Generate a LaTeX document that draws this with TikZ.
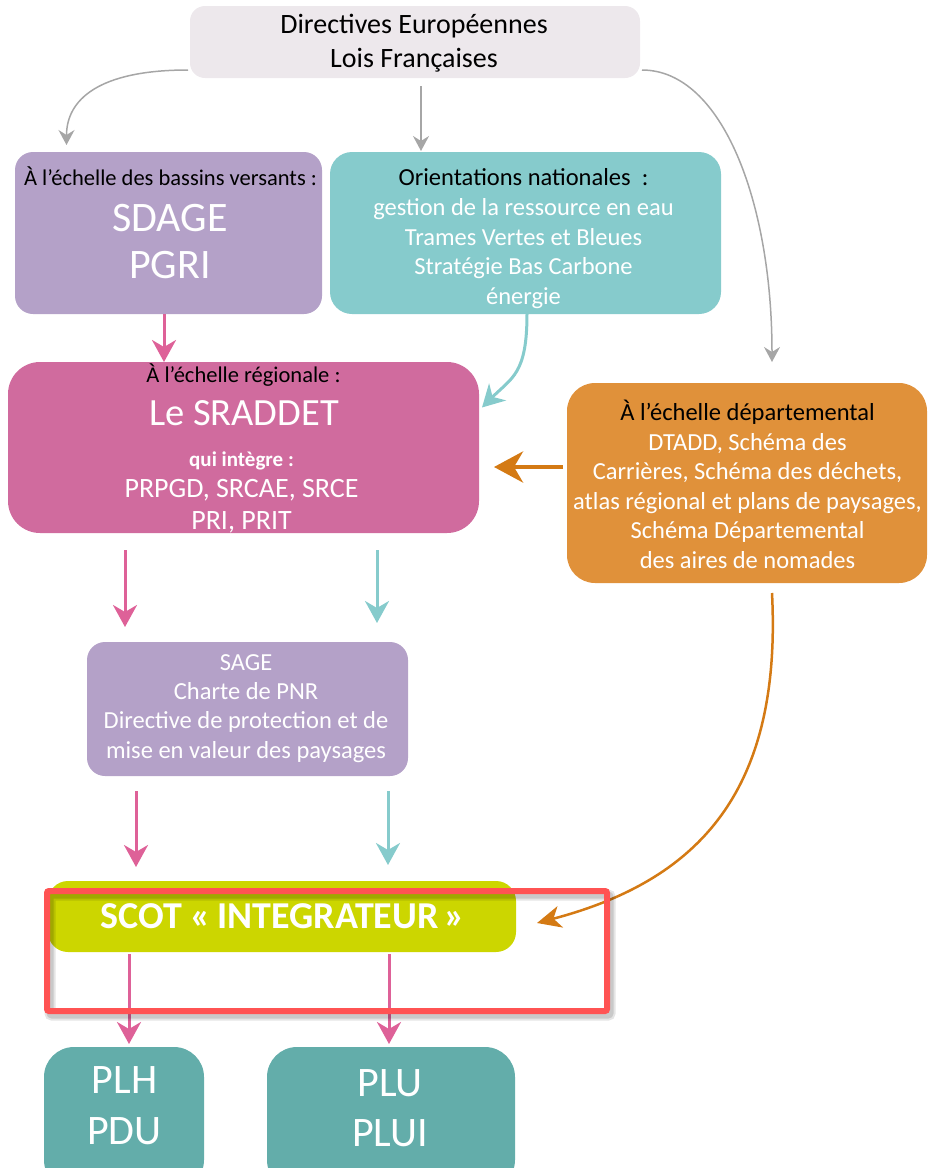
\documentclass[tikz,border=0pt]{standalone}
\usepackage{fontspec}
\setmainfont{Carlito}
\usetikzlibrary{arrows.meta}

\definecolor{topgray}{HTML}{EDE8EC}
\definecolor{lavender}{HTML}{B4A1C8}
\definecolor{lightteal}{HTML}{86CBCC}
\definecolor{rosebox}{HTML}{D06B9E}
\definecolor{orangebox}{HTML}{E0913A}
\definecolor{limebox}{HTML}{CCD600}
\definecolor{darkteal}{HTML}{63ADAA}
\definecolor{redframe}{HTML}{FF5353}
\definecolor{arrowgray}{HTML}{A6A6A6}
\definecolor{arrowpink}{HTML}{DE6198}
\definecolor{arroworange}{HTML}{D47A14}

\tikzset{
  box/.style={inner sep=0pt, outer sep=0pt},
  headtxt/.style={anchor=base, inner sep=0pt, text=black, align=center},
  bodytxt/.style={anchor=base, inner sep=0pt, text=white, align=center},
  grayarrow/.style={draw=arrowgray, line width=1.5pt, -{Stealth[length=15pt,width=16pt,inset=5pt]}},
  pinkarrow/.style={draw=arrowpink, line width=3pt, -{Stealth[length=22pt,width=24pt,inset=7pt]}},
  tealarrow/.style={draw=lightteal, line width=3pt, -{Stealth[length=22pt,width=24pt,inset=7pt]}},
  orangearrow/.style={draw=arroworange, line width=2.5pt, -{Stealth[length=24pt,width=22pt,inset=7pt]}},
  orangethick/.style={draw=arroworange, line width=4.5pt, -{Stealth[length=29pt,width=31pt,inset=9pt]}}
}

\begin{document}
\begin{tikzpicture}[x=1pt, y=-1pt]
\useasboundingbox (0,0) rectangle (928,1168);

\node[box, fill=topgray, rounded corners=15pt, minimum width=450pt, minimum height=72pt] (dir) at (415,42) {};
\node[box, fill=lavender, rounded corners=18pt, minimum width=307pt, minimum height=162pt] (sdage) at (168.5,233) {};
\node[box, fill=lightteal, rounded corners=22pt, minimum width=391pt, minimum height=162pt] (orient) at (525.5,233) {};
\node[box, fill=rosebox, rounded corners=32pt, minimum width=471pt, minimum height=171pt] (sraddet) at (243.5,447.5) {};
\node[box, fill=orangebox, rounded corners=28pt, minimum width=360pt, minimum height=200pt] (dept) at (747,483) {};
\node[box, fill=lavender, rounded corners=18pt, minimum width=321pt, minimum height=134pt] (sage) at (247.5,709) {};
\node[box, fill=limebox, rounded corners=20pt, minimum width=468pt, minimum height=71pt] (scot) at (282,916.5) {};
\node[box, fill=darkteal, rounded corners=30pt, minimum width=160pt, minimum height=143pt] (plh) at (124,1118.5) {};
\node[box, fill=darkteal, rounded corners=30pt, minimum width=248pt, minimum height=143pt] (plu) at (391,1118.5) {};

\node[headtxt, font=\fontsize{28}{34}\selectfont] (dirT) at (414,67) {Directives Européennes\\Lois Françaises};
\node[headtxt, font=\fontsize{22.5}{27}\selectfont] (sdageH) at (170.5,185) {À l’échelle des bassins versants :};
\node[bodytxt, font=\fontsize{42}{47}\selectfont] (sdageT) at (170,278.5) {SDAGE\\PGRI};
\node[headtxt, font=\fontsize{24.5}{29.6}\selectfont] (orientH) at (523.5,185) {Orientations nationales\ \ :};
\node[bodytxt, font=\fontsize{24.5}{29.6}\selectfont] (orientT) at (523.5,304.3) {gestion de la ressource en eau\\Trames Vertes et Bleues\\Stratégie Bas Carbone\\énergie};
\node[headtxt, font=\fontsize{22.5}{27}\selectfont] (sraddetH) at (243.5,382) {À l’échelle régionale :};
\node[bodytxt, font=\fontsize{38.5}{44}\selectfont] (sraddetT) at (244,425) {Le SRADDET};
\node[bodytxt, font=\bfseries\fontsize{21}{25}\selectfont] (sraddetQ) at (241.5,466) {qui intègre :};
\node[bodytxt, font=\fontsize{28}{32}\selectfont] (sraddetL) at (241.5,529) {PRPGD, SRCAE, SRCE\\PRI, PRIT};
\node[headtxt, font=\fontsize{24.5}{29.6}\selectfont] (deptH) at (747.5,420) {À l’échelle départemental};
\node[bodytxt, font=\fontsize{24.5}{29.6}\selectfont] (deptT) at (747.5,568.4) {DTADD, Schéma des\\Carrières, Schéma des déchets,\\atlas régional et plans de paysages,\\Schéma Départemental\\des aires de nomades};
\node[bodytxt, font=\fontsize{24.5}{29.4}\selectfont] (sageT) at (246,758.2) {SAGE\\Charte de PNR\\Directive de protection et de\\mise en valeur des paysages};
\node[bodytxt, font=\bfseries\fontsize{38}{44}\selectfont] (scotT) at (283,928) {SCOT «\,INTEGRATEUR\,»};
\node[bodytxt, font=\fontsize{42}{51}\selectfont] (plhT) at (124.5,1144.5) {PLH\\PDU};
\node[bodytxt, font=\fontsize{42}{50}\selectfont] (pluT) at (390,1146.5) {PLU\\PLUI};

\draw[grayarrow] ([yshift=-28pt,xshift=-2pt]dir.west) .. controls +(-90,0) and +(0,-45) .. ([xshift=-102pt,yshift=7pt]sdage.north);
\draw[grayarrow] ([xshift=6pt,yshift=-8pt]dir.south) -- ([xshift=-104.5pt,yshift=1pt]orient.north);
\draw[grayarrow] ([yshift=-28pt,xshift=2pt]dir.east) .. controls +(80,0) and +(0,-160) .. ([xshift=25pt,yshift=21pt]dept.north);

\draw[pinkarrow] ([xshift=-4.5pt]sdage.south) -- ([xshift=-79.5pt]sraddet.north);
\draw[tealarrow] ([xshift=1.5pt]orient.south) .. controls +(0,60) and +(30,-30) .. ([xshift=3pt,yshift=40pt]sraddet.east);
\draw[orangethick] ([xshift=-4pt,yshift=16pt]dept.west) -- ([xshift=15pt,yshift=-19.5pt]sraddet.east);

\draw[pinkarrow] ([xshift=-118.5pt,yshift=-17pt]sraddet.south) -- ([xshift=-122.5pt,yshift=15pt]sage.north);
\draw[tealarrow] ([xshift=133.5pt,yshift=-17pt]sraddet.south) -- ([xshift=129.5pt,yshift=19pt]sage.north);
\draw[pinkarrow] ([xshift=-111.5pt,yshift=-15pt]sage.south) -- ([xshift=-146pt,yshift=14pt]scot.north);
\draw[tealarrow] ([xshift=140.5pt,yshift=-15pt]sage.south) -- ([xshift=106pt,yshift=16pt]scot.north);

\draw[orangearrow] ([xshift=25pt,yshift=-10pt]dept.south) .. controls (782,790) and (700,880) .. ([xshift=21pt,yshift=-6.5pt]scot.east);

\draw[pinkarrow] ([xshift=-153pt,yshift=-2pt]scot.south) -- ([xshift=5pt,yshift=3pt]plh.north);
\draw[pinkarrow] ([xshift=107pt,yshift=-2pt]scot.south) -- ([xshift=-2pt,yshift=3pt]plu.north);

\draw[black, opacity=0.10, line width=11pt, rounded corners=2pt] (50,895) rectangle (610,1015);
\draw[black, opacity=0.12, line width=7pt, rounded corners=2pt] (50,895) rectangle (610,1015);
\draw[redframe, line width=6pt, rounded corners=2pt] (47,891) rectangle (607,1011);
\end{tikzpicture}
\end{document}
